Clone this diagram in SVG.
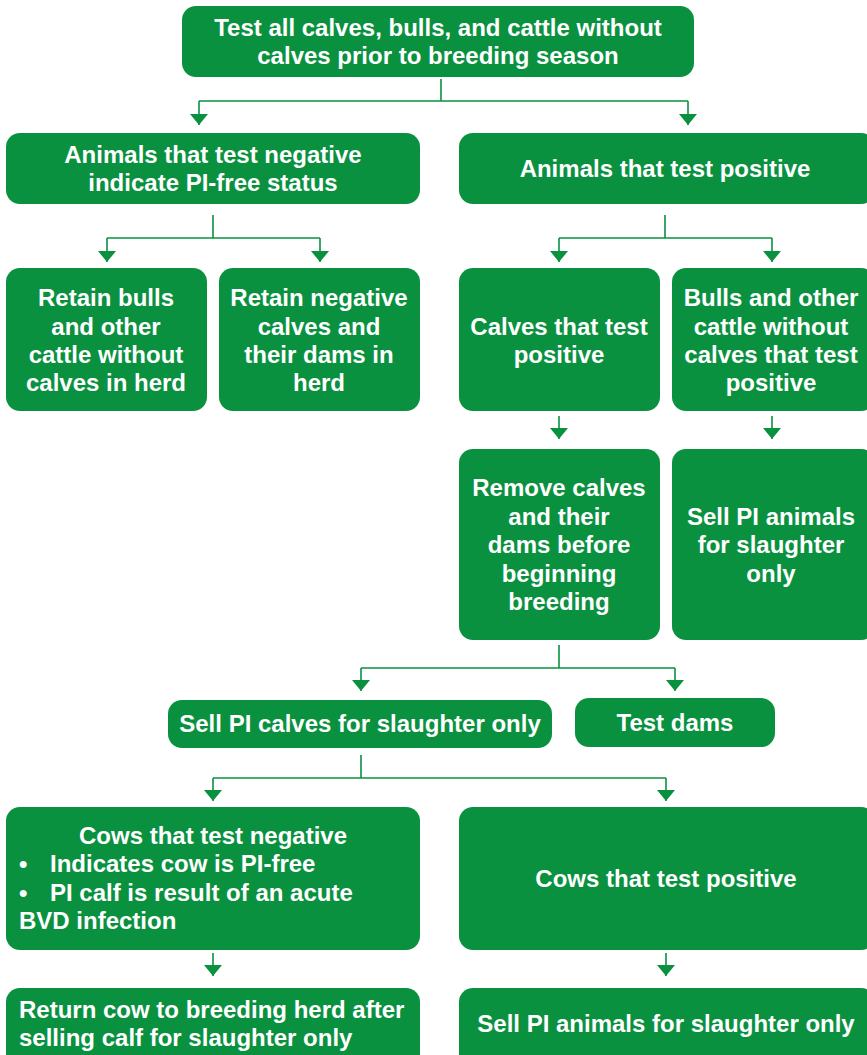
<svg xmlns="http://www.w3.org/2000/svg" width="867" height="1055" viewBox="0 0 867 1055">
<style>
.box{fill:#0a9140;}
.t{font-family:"Liberation Sans",Arial,sans-serif;font-weight:bold;font-size:24px;fill:#fff;text-anchor:middle;}
.l{text-anchor:start;}
.c{fill:none;stroke:#0a9140;stroke-width:1.6;}
</style>
<defs>
<marker id="ah" viewBox="0 0 11 18" refX="11" refY="9" markerWidth="11" markerHeight="18" markerUnits="userSpaceOnUse" orient="auto">
<path d="M0,0 L11,9 L0,18 Z" fill="#0a9140"/>
</marker>
</defs>
<rect width="867" height="1055" fill="#fff"/>
<g id="connectors">
<path class="c" d="M441,79 V101 M199,101 H688"/>
<path class="c" d="M199,101 V125" marker-end="url(#ah)"/>
<path class="c" d="M688,101 V125" marker-end="url(#ah)"/>
<path class="c" d="M213,215 V238 M107,238 H320"/>
<path class="c" d="M107,238 V262" marker-end="url(#ah)"/>
<path class="c" d="M320,238 V262" marker-end="url(#ah)"/>
<path class="c" d="M665,215 V238 M559,238 H772"/>
<path class="c" d="M559,238 V262" marker-end="url(#ah)"/>
<path class="c" d="M772,238 V262" marker-end="url(#ah)"/>
<path class="c" d="M559,416 V439" marker-end="url(#ah)"/>
<path class="c" d="M772,416 V439" marker-end="url(#ah)"/>
<path class="c" d="M559,645 V668 M361,668 H675"/>
<path class="c" d="M361,668 V691" marker-end="url(#ah)"/>
<path class="c" d="M675,668 V691" marker-end="url(#ah)"/>
<path class="c" d="M361,755 V778 M213,778 H666"/>
<path class="c" d="M213,778 V801" marker-end="url(#ah)"/>
<path class="c" d="M666,778 V801" marker-end="url(#ah)"/>
<path class="c" d="M213,953 V976" marker-end="url(#ah)"/>
<path class="c" d="M666,953 V976" marker-end="url(#ah)"/>
</g>
<g id="n_top">
<rect class="box" x="182" y="6" width="512" height="71" rx="14"/>
<text class="t" x="438" y="36">Test all calves, bulls, and cattle without</text>
<text class="t" x="438" y="64">calves prior to breeding season</text>
</g>
<g id="n_neg">
<rect class="box" x="6" y="133" width="414" height="71" rx="14"/>
<text class="t" x="213" y="163">Animals that test negative</text>
<text class="t" x="213" y="191">indicate PI-free status</text>
</g>
<g id="n_pos">
<rect class="box" x="459" y="133" width="416" height="71" rx="14"/>
<text class="t" x="665" y="177">Animals that test positive</text>
</g>
<g id="n_retain_bulls">
<rect class="box" x="6" y="268" width="201" height="143" rx="14"/>
<text class="t" x="106" y="306">Retain bulls</text>
<text class="t" x="106" y="335">and other</text>
<text class="t" x="106" y="363">cattle without</text>
<text class="t" x="106" y="391">calves in herd</text>
</g>
<g id="n_retain_neg">
<rect class="box" x="219" y="268" width="201" height="143" rx="14"/>
<text class="t" x="319" y="306">Retain negative</text>
<text class="t" x="319" y="335">calves and</text>
<text class="t" x="319" y="363">their dams in</text>
<text class="t" x="319" y="391">herd</text>
</g>
<g id="n_calves_pos">
<rect class="box" x="459" y="268" width="201" height="143" rx="14"/>
<text class="t" x="559" y="335">Calves that test</text>
<text class="t" x="559" y="363">positive</text>
</g>
<g id="n_bulls_pos">
<rect class="box" x="672" y="268" width="203" height="143" rx="14"/>
<text class="t" x="771" y="306">Bulls and other</text>
<text class="t" x="771" y="335">cattle without</text>
<text class="t" x="771" y="363">calves that test</text>
<text class="t" x="771" y="391">positive</text>
</g>
<g id="n_remove">
<rect class="box" x="459" y="449" width="201" height="191" rx="14"/>
<text class="t" x="559" y="496">Remove calves</text>
<text class="t" x="559" y="525">and their</text>
<text class="t" x="559" y="553">dams before</text>
<text class="t" x="559" y="582">beginning</text>
<text class="t" x="559" y="610">breeding</text>
</g>
<g id="n_sell_pi_1">
<rect class="box" x="672" y="449" width="203" height="191" rx="14"/>
<text class="t" x="771" y="525">Sell PI animals</text>
<text class="t" x="771" y="553">for slaughter</text>
<text class="t" x="771" y="582">only</text>
</g>
<g id="n_sell_calves">
<rect class="box" x="168" y="700" width="384" height="48" rx="14"/>
<text class="t" x="360" y="732">Sell PI calves for slaughter only</text>
</g>
<g id="n_test_dams">
<rect class="box" x="575" y="698" width="200" height="49" rx="14"/>
<text class="t" x="675" y="731">Test dams</text>
</g>
<g id="n_cows_neg">
<rect class="box" x="6" y="807" width="414" height="143" rx="14"/>
<text class="t" x="213" y="844">Cows that test negative</text>
<text class="t l" x="19" y="872">•</text>
<text class="t l" x="50" y="872">Indicates cow is PI-free</text>
<text class="t l" x="19" y="901">•</text>
<text class="t l" x="50" y="901">PI calf is result of an acute</text>
<text class="t l" x="19" y="929">BVD infection</text>
</g>
<g id="n_cows_pos">
<rect class="box" x="459" y="807" width="416" height="143" rx="14"/>
<text class="t" x="666" y="887">Cows that test positive</text>
</g>
<g id="n_return">
<rect class="box" x="6" y="988" width="414" height="90" rx="14"/>
<text class="t l" x="19" y="1018">Return cow to breeding herd after</text>
<text class="t l" x="19" y="1046">selling calf for slaughter only</text>
</g>
<g id="n_sell_pi_2">
<rect class="box" x="459" y="988" width="416" height="90" rx="14"/>
<text class="t" x="666" y="1032">Sell PI animals for slaughter only</text>
</g>
</svg>
